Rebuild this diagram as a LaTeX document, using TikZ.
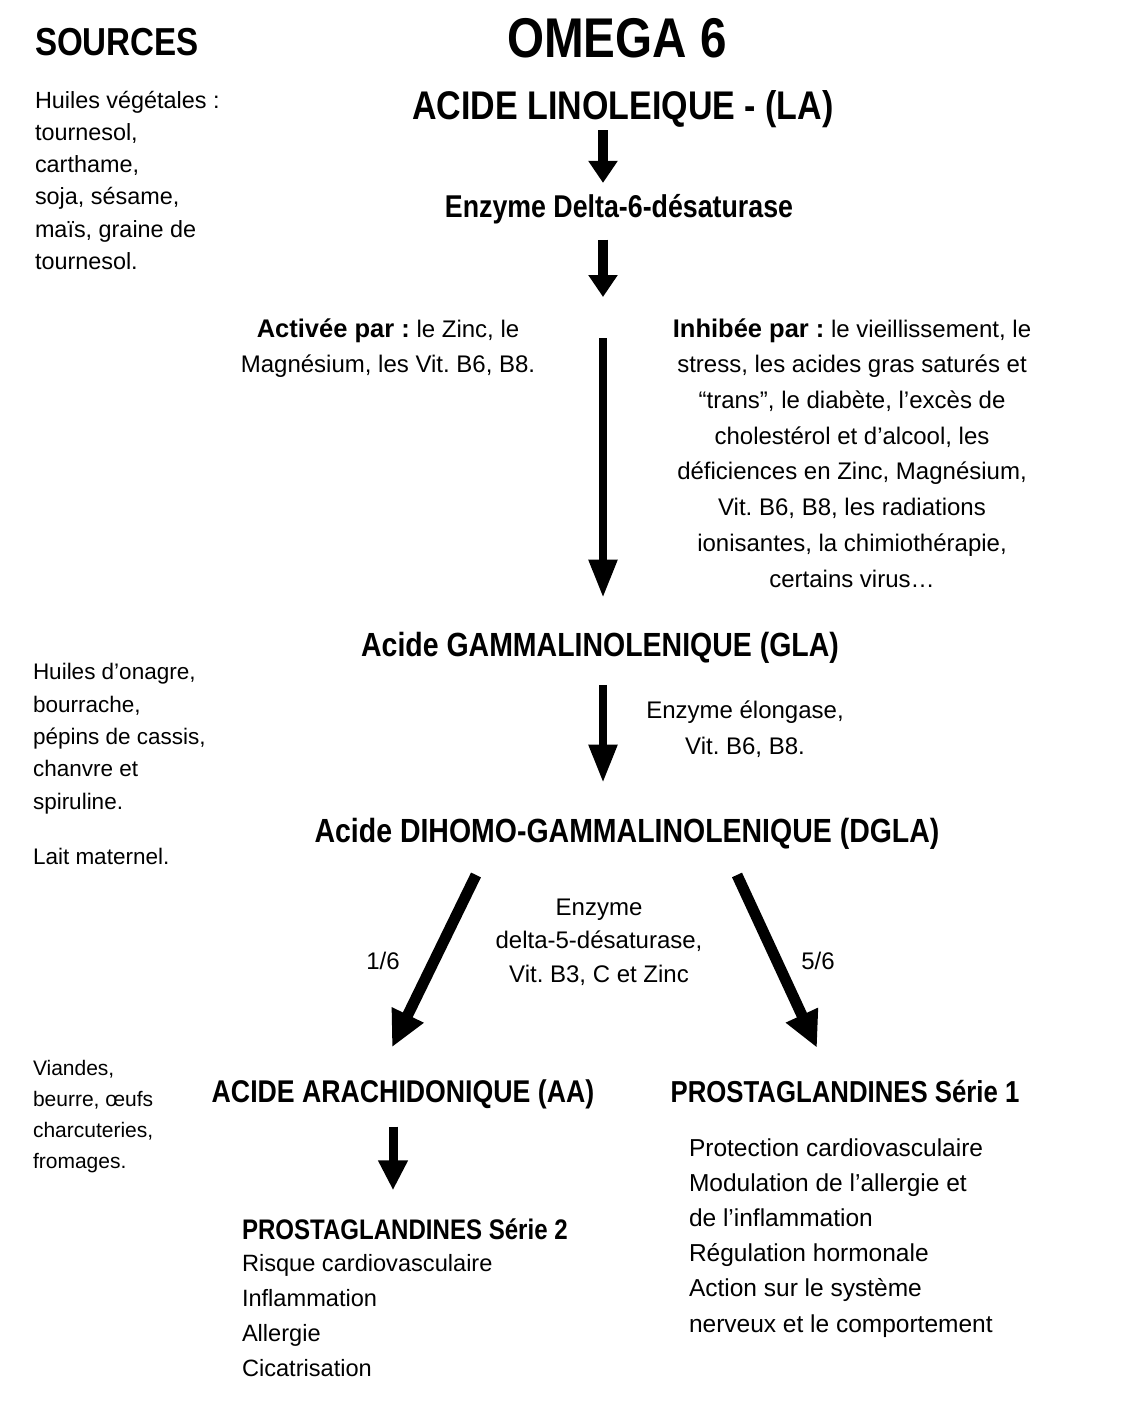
\documentclass[tikz,border=0pt]{standalone}
\usepackage{fontspec}
\setmainfont{Liberation Sans}[BoldFont={Liberation Sans Bold},BoldFeatures={FakeStretch=0.85}]
\newfontfamily\boldwide{Liberation Sans Bold}
\newcommand\lead[1]{{\boldwide\fontsize{25.5}{30}\selectfont #1}}
\usetikzlibrary{arrows.meta,calc}
\frenchspacing
\begin{document}
\begin{tikzpicture}[x=1pt,y=-1pt,
  every node/.style={inner sep=0pt,outer sep=0pt,execute at begin node=\frenchspacing},
  ttl/.style={anchor=base,font=\fontsize{#1}{#1}\selectfont\bfseries},
  bodyc/.style={anchor=base,align=center,font=\fontsize{24}{#1}\selectfont},
  listl/.style 2 args={anchor=base west,align=left,font=\fontsize{#1}{#2}\selectfont},
  shortarr/.style={line width=10pt,-{Triangle[width=28pt,length=22pt]}},
  longarr/.style={line width=8pt,-{Triangle[width=27pt,length=38pt]}},
  midarr/.style={line width=9pt,-{Triangle[width=28pt,length=30pt]}},
  diagarr/.style={line width=11pt,-{Triangle[width=33pt,length=36pt]}}]
\fill[white] (0,0) rectangle (1122,1402);
\useasboundingbox (0,0) rectangle (1122,1402);
\coordinate (axis) at (603,0);

% multi-line nodes: anchor base = baseline of the LAST line
\node[ttl=39] (src) at (117,56) {SOURCES};
\node[ttl=56] (omega) at (617,58) {OMEGA 6};
\node[ttl=40] (LA) at (623,120) {ACIDE LINOLEIQUE - (LA)};
\node[ttl=31.5] (ENZ) at (619,217) {Enzyme Delta-6-désaturase};

\node[listl={23.4}{32.3}] (srcA) at (35,269.5) {Huiles végétales :\\tournesol,\\carthame,\\soja, sésame,\\maïs, graine de\\tournesol.};

\node[bodyc=35] (act) at (388,372) {\lead{Activée par :} le Zinc, le\\Magnésium, les Vit. B6, B8.};
\node[bodyc=35.7] (inh) at (852,587) {\lead{Inhibée par :} le vieillissement, le\\stress, les acides gras saturés et\\“trans”, le diabète, l’excès de\\cholestérol et d’alcool, les\\déficiences en Zinc, Magnésium,\\Vit. B6, B8, les radiations\\ionisantes, la chimiothérapie,\\certains virus…};

\node[ttl=33.5] (GLA) at (600,656) {Acide GAMMALINOLENIQUE (GLA)};
\node[bodyc=36] (elo) at (745,754) {Enzyme élongase,\\Vit. B6, B8.};

\node[listl={22.5}{32.3}] (srcB) at (33,809) {Huiles d’onagre,\\bourrache,\\pépins de cassis,\\chanvre et\\spiruline.};
\node[listl={22.5}{32.3}] (srcC) at (33,864) {Lait maternel.};

\node[ttl=33.5] (DGLA) at (627,842) {Acide DIHOMO-GAMMALINOLENIQUE (DGLA)};
\node[bodyc=33.5] (d5) at (599,982) {Enzyme\\delta-5-désaturase,\\Vit. B3, C et Zinc};
\node[bodyc=24] (r16) at (383,969) {1/6};
\node[bodyc=24] (r56) at (818,969) {5/6};

\node[listl={21}{31}] (srcD) at (33,1168) {Viandes,\\beurre, œufs\\charcuteries,\\fromages.};

\node[ttl=31.4] (AA) at (403,1102) {ACIDE ARACHIDONIQUE (AA)};
\node[ttl=30.3] (PS1) at (845,1102) {PROSTAGLANDINES Série 1};
\node[ttl=28.3,anchor=base west] (PS2) at (242,1239) {PROSTAGLANDINES Série 2};
\node[listl={23.6}{34.7}] (PS2l) at (242,1376) {Risque cardiovasculaire\\Inflammation\\Allergie\\Cicatrisation};
\node[listl={24.5}{35.2}] (PS1l) at (689,1332) {Protection cardiovasculaire\\Modulation de l’allergie et\\de l’inflammation\\Régulation hormonale\\Action sur le système\\nerveux et le comportement};

\coordinate (c1) at (603,297);
\coordinate (c2) at (603,338);
\draw[shortarr,shorten <=2pt,shorten >=11pt] (axis |- LA.south) -- (axis |- ENZ.north);
\draw[shortarr,shorten <=16pt] (axis |- ENZ.south) -- (c1);
\draw[longarr,shorten >=34pt] (c2) -- (axis |- GLA.north);
\draw[longarr,shorten <=22pt,shorten >=35pt] (axis |- GLA.south) -- (axis |- DGLA.north);
\draw[diagarr] ($(DGLA.south)+(-151,26)$) -- ($(AA.north)+(-11,-32)$);
\draw[diagarr] ($(DGLA.south)+(110,26)$) -- ($(PS1.north)+(-28,-32)$);
\draw[midarr,shorten <=18pt,shorten >=28pt] ($(AA.south)+(-10,0)$) -- (PS2.north -| {$(AA.south)+(-10,0)$});
\end{tikzpicture}
\end{document}
